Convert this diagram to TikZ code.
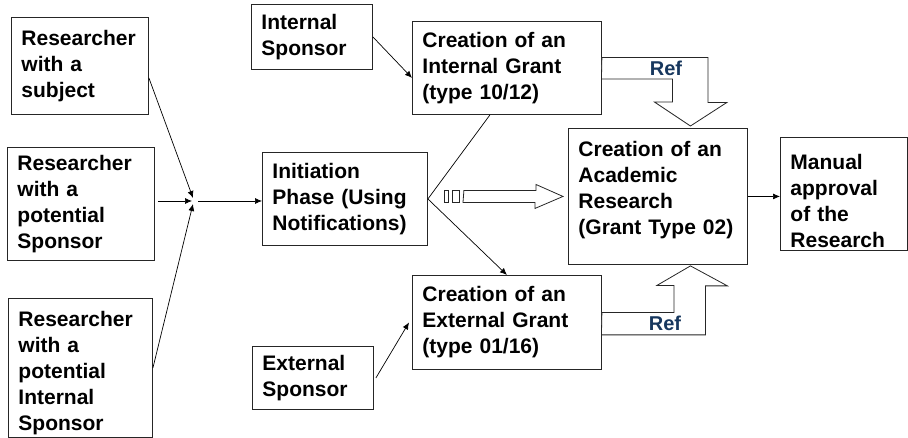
\documentclass[tikz,border=0pt]{standalone}
\usepackage{fontspec}
\setmainfont{Liberation Sans}
\usetikzlibrary{arrows.meta,calc}
\definecolor{refblue}{RGB}{23,55,94}
\tikzset{
  box/.style={draw=black!85, line width=0.9pt, anchor=north west, align=left,
    inner xsep=10pt, inner ysep=0pt, font=\fontsize{21}{26}\selectfont\bfseries},
  link/.style={line width=0.7pt, -{Latex[length=7pt,width=6pt]}},
  fat/.style={draw=black!85, line width=0.8pt, fill=white},
  reflabel/.style={text=refblue, inner sep=0pt, font=\fontsize{20}{24}\selectfont\bfseries}
}

\begin{document}
\begin{tikzpicture}[x=1pt,y=-1pt]
        \useasboundingbox (0,0) rectangle (908,438);
        \node[box, text width=117pt, minimum height=97pt] (subj) at (11,17) {Researcher\\with a\\subject};
        \node[box, text width=127pt, minimum height=113pt] (spons) at (7,147) {Researcher\\with a\\potential\\Sponsor};
        \node[box, text width=124pt, minimum height=139pt] (intspons) at (8,298) {\rule{0pt}{25pt}Researcher\\with a\\potential\\Internal\\Sponsor};
        \node[box, text width=101pt, minimum height=65pt] (isp) at (251,4) {Internal\\Sponsor};
        \node[box, text width=169pt, minimum height=93pt] (ig) at (412,21) {Creation of an\\Internal Grant\\(type 10/12)};
        \node[box, text width=145pt, minimum height=93pt] (init) at (262,152) {Initiation\\Phase (Using\\Notifications)};
        \node[box, text width=159pt, minimum height=136pt] (acad) at (568,128) {Creation of an\\Academic\\Research\\(Grant Type 02)\rule[-18pt]{0pt}{18pt}};
        \node[box, text width=169pt, minimum height=94pt] (eg) at (412,275) {Creation of an\\External Grant\\(type 01/16)};
        \node[box, text width=101pt, minimum height=63pt] (esp) at (252,346) {External\\Sponsor};
        \node[box, text width=107pt, minimum height=113pt] (appr) at (780,137) {\rule{0pt}{29pt}Manual\\approval\\of the\\Research};
        \coordinate (j) at (193,201);

        \draw[link] ([yshift=-12pt]subj.east) -- ([yshift=3pt]j);
        \draw[link] ($(spons.east |- j)+(3,0)$) -- ($(j)+(-1,0)$);
        \draw[link] (intspons.east) -- ([yshift=-3pt]j);
        \draw[link] ($(j)+(5,0)$) -- (init.west |- j);
        \draw[link] (isp.east) -- ([yshift=-10pt]ig.west);
        \draw[line width=0.7pt] (init.east) -- ([xshift=-17pt]ig.south);
        \draw[link] (init.east) -- (eg.north);
        \draw[link] ([xshift=2pt]esp.east) -- ([xshift=-3pt]eg.west);
        \draw[link] (acad.east) -- (acad.east -| appr.west);

        \draw[fat] ($(ig.east)+(0,-10.5)$) -- ++(106,0) -- ++(0,45) -- ++(19,0)
            -- ($(acad.north)+(32.5,-2)$) -- ++(-36,-24) -- ++(18,0) -- ++(0,-23) -- ++(-71,0) -- cycle;
        \node[reflabel] (refa) at (666,68) {Ref};
        \draw[fat] ($(eg.east)+(0,-10)$) -- ++(72,0) -- ++(0,-27) -- ++(-17,0)
            -- ($(acad.south)+(32.5,1)$) -- ++(37,20) -- ++(-22,0) -- ++(0,49) -- ++(-104,0) -- cycle;
        \node[reflabel] (refb) at (665,323) {Ref};

        \draw[fat] ($(init.east)+(16,-8.5)$) rectangle ++(4,12);
        \draw[fat] ($(init.east)+(24,-8.5)$) rectangle ++(7,12);
        \draw[fat] ($(init.east)+(36,-8.5)$) -- ++(72,0) -- ++(0,-6) -- ($(acad.west)+(-5,0)$)
            -- ++(-28,12) -- ++(0,-6) -- ++(-72,0) -- cycle;
\end{tikzpicture}
\end{document}
